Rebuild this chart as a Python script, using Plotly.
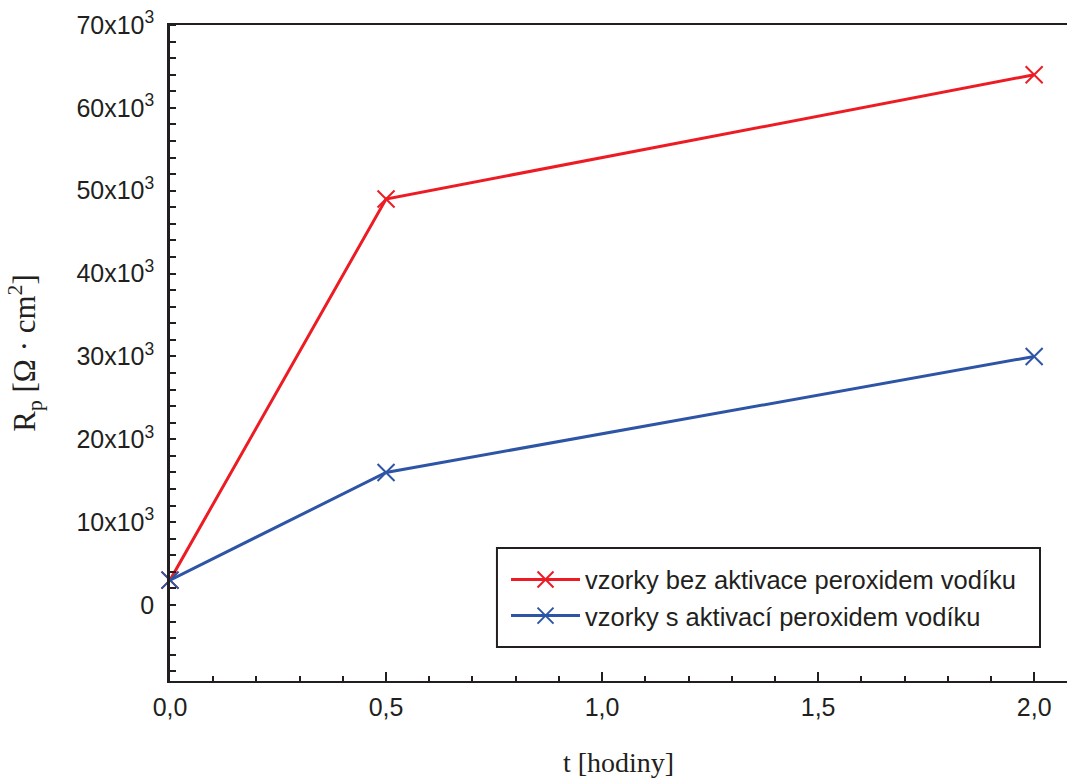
import plotly.graph_objects as go

# Polarisation resistance over time for two sample series
t_hours = [0.0, 0.5, 2.0]
rp_without_activation = [3000, 49000, 64000]
rp_with_activation = [3000, 16000, 30000]

series_names = [
    "vzorky bez aktivace peroxidem vodíku",
    "vzorky s aktivací peroxidem vodíku",
]

x_tick_values = [0.0, 0.5, 1.0, 1.5, 2.0]
x_tick_labels = ["0,0", "0,5", "1,0", "1,5", "2,0"]
y_tick_values = [0, 10000, 20000, 30000, 40000, 50000, 60000, 70000]
y_tick_labels = ["0"] + [f"{v // 1000}x10<sup>3</sup>" for v in y_tick_values[1:]]

RED = "#ED1C24"
BLUE = "#2E55A5"
AXIS = "#231F20"
SANS = "Liberation Sans, Arial, sans-serif"
SERIF = "Liberation Serif, Times New Roman, serif"

fig = go.Figure()
for values, color, name in [
    (rp_without_activation, RED, series_names[0]),
    (rp_with_activation, BLUE, series_names[1]),
]:
    fig.add_trace(go.Scatter(
        x=t_hours, y=values, name=name, mode="lines+markers",
        line=dict(color=color, width=3),
        marker=dict(symbol="x-thin", size=17, line=dict(color=color, width=2)),
        cliponaxis=False,
    ))

fig.update_layout(
    width=1067, height=778,
    margin=dict(l=170, r=0, t=25, b=97),
    paper_bgcolor="white", plot_bgcolor="white",
    font=dict(family=SANS, size=25, color=AXIS),
    showlegend=True,
    legend=dict(
        x=0.3746, y=0.19, xanchor="left", yanchor="top",
        borderwidth=0, bgcolor="rgba(0,0,0,0)",
        font=dict(family=SANS, size=25.5, color=AXIS),
        itemwidth=69,
    ),
    # frame around the legend entries
    shapes=[dict(
        type="rect", xref="paper", yref="paper",
        x0=0.3645, x1=0.9699, y0=0.0518, y1=0.2027,
        line=dict(color=AXIS, width=2), fillcolor="white", layer="below",
    )],
)

fig.update_xaxes(
    range=[0, 2.076], showgrid=False, zeroline=False,
    showline=True, linecolor=AXIS, linewidth=2, mirror=True,
    tickvals=x_tick_values, ticktext=x_tick_labels,
    ticks="inside", ticklen=9, tickwidth=1.5, tickcolor=AXIS,
    minor=dict(ticks="inside", ticklen=5, dtick=0.1, tick0=0, tickwidth=1.5, tickcolor=AXIS),
    ticklabelstandoff=3,
    tickfont=dict(family=SANS, size=25, color=AXIS),
    title=dict(text="t [hodiny]", font=dict(family=SERIF, size=28, color=AXIS), standoff=34),
)

fig.update_yaxes(
    range=[-9170, 70000], showgrid=False, zeroline=False,
    showline=True, linecolor=AXIS, linewidth=2.5,
    tickvals=y_tick_values, ticktext=y_tick_labels,
    ticks="",
    minor=dict(ticks="inside", ticklen=6, dtick=2000, tick0=0, tickwidth=2, tickcolor=AXIS),
    ticklabelstandoff=8,
    tickfont=dict(family=SANS, size=25, color=AXIS),
    title=dict(text="R<sub>p</sub> [Ω · cm<sup>2</sup>]",
               font=dict(family=SERIF, size=31, color=AXIS), standoff=32),
)

fig.write_html("out.html")
